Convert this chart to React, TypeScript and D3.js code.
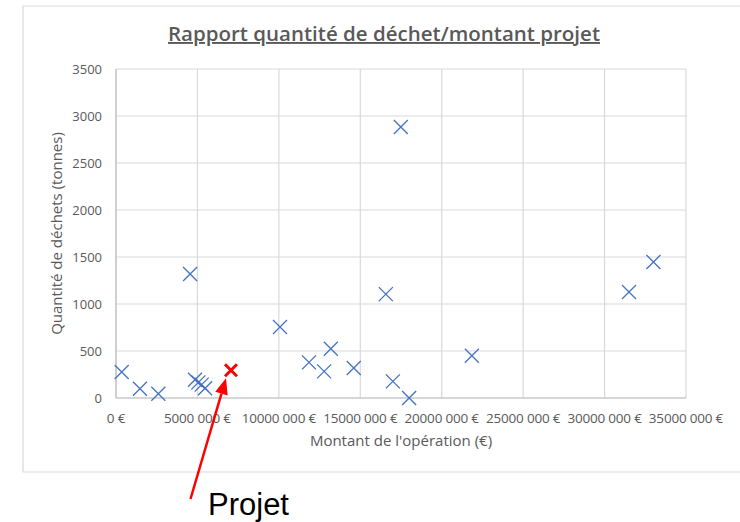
import React from "react";
import * as d3 from "d3";

const montants = [0.35e6, 1.47e6, 2.6e6, 4.55e6, 4.85e6, 5.06e6, 5.26e6, 5.47e6, 10.07e6, 11.85e6, 12.78e6, 13.19e6, 14.6e6, 16.57e6, 17.0e6, 18.0e6, 21.85e6, 17.49e6, 31.5e6, 33.0e6];
const dechets = [277, 99, 46, 1319, 195, 166, 142, 103, 755, 379, 283, 524, 319, 1105, 177, 0, 450, 2883, 1128, 1447];
const projetMontant = [7.06e6];
const projetDechets = [295];
const xTicks = [0, 5e6, 10e6, 15e6, 20e6, 25e6, 30e6, 35e6];
const xTickLabels = ["0 €", "5000 000 €", "10000 000 €", "15000 000 €", "20000 000 €", "25000 000 €", "30000 000 €", "35000 000 €"];
const yTicks = [0, 500, 1000, 1500, 2000, 2500, 3000, 3500];

const W = 740, H = 522;
const plot = { left: 116, right: 686, top: 69, bottom: 398 };
const font = "'Open Sans', 'DejaVu Sans', sans-serif";
const gray = "#595959";

export default function App() {
  const x = d3.scaleLinear().domain([0, 35e6]).range([plot.left, plot.right]);
  const y = d3.scaleLinear().domain([0, 3500]).range([plot.bottom, plot.top]);
  const cross = (cx: number, cy: number, r: number) =>
    `M${cx - r},${cy - r}L${cx + r},${cy + r}M${cx - r},${cy + r}L${cx + r},${cy - r}`;

  const px = x(projetMontant[0]);
  const py = y(projetDechets[0]);
  const tip = { x: px - 5, y: py + 8 };
  const tail = { x: 190.5, y: 499 };
  const ang = Math.atan2(tip.y - tail.y, tip.x - tail.x);
  const headLen = 16, headW = 6.5;
  const bx = tip.x - headLen * Math.cos(ang), by = tip.y - headLen * Math.sin(ang);
  const nx = -Math.sin(ang), ny = Math.cos(ang);
  const head = `M${tip.x},${tip.y}L${bx + nx * headW},${by + ny * headW}L${bx - nx * headW},${by - ny * headW}Z`;

  return (
    <svg width={W} height={H} style={{ position: "absolute", left: 0, top: 0, background: "#fff" }}>
      <rect x={0} y={0} width={W} height={H} fill="#fff" />
      {/* chart border */}
      <path d={`M23,6H760M23,6V472H760`} fill="none" stroke="#d9d9d9" strokeWidth={1.2} />
      {/* title */}
      <text x={384} y={41} textAnchor="middle" fontFamily={font} fontWeight={600} fontSize={19}
        fill={gray} textDecoration="underline" textLength={432} lengthAdjust="spacingAndGlyphs">
        Rapport quantité de déchet/montant projet
      </text>
      {/* gridlines */}
      {yTicks.map((t) => (
        <line key={"gy" + t} x1={plot.left} x2={plot.right} y1={y(t)} y2={y(t)} stroke="#d9d9d9" strokeWidth={1.2} />
      ))}
      {xTicks.map((t) => (
        <line key={"gx" + t} x1={x(t)} x2={x(t)} y1={plot.top} y2={plot.bottom} stroke="#d9d9d9" strokeWidth={1.2} />
      ))}
      <line x1={plot.left} x2={plot.right} y1={plot.bottom} y2={plot.bottom} stroke="#bfbfbf" strokeWidth={1.2} />
      <line x1={plot.left} x2={plot.left} y1={plot.top} y2={plot.bottom} stroke="#bfbfbf" strokeWidth={1.2} />
      {/* y tick labels */}
      {yTicks.map((t) => (
        <text key={"ly" + t} x={102} y={y(t) + 4.5} textAnchor="end" fontFamily={font} fontSize={13} fill={gray}>
          {t}
        </text>
      ))}
      {/* x tick labels */}
      {xTicks.map((t, i) => (
        <text key={"lx" + t} x={x(t)} y={423} textAnchor="middle" fontFamily={font} fontSize={13.5} fill={gray}
          letterSpacing={-0.2}>
          {xTickLabels[i]}
        </text>
      ))}
      {/* axis titles */}
      <text x={401} y={446} textAnchor="middle" fontFamily={font} fontSize={15} fill={gray}>
        Montant de l'opération (€)
      </text>
      <text transform={`translate(62,${(plot.top + plot.bottom) / 2}) rotate(-90)`} textAnchor="middle"
        fontFamily={font} fontSize={15} fill={gray}>
        Quantité de déchets (tonnes)
      </text>
      {/* points */}
      {montants.map((m, i) => (
        <path key={"p" + i} d={cross(x(m), y(dechets[i]), 7)} stroke="#4472C4" strokeWidth={1.3} fill="none" />
      ))}
      {projetMontant.map((m, i) => (
        <path key={"r" + i} d={cross(x(m), y(projetDechets[i]), 6)} stroke="#ff0000" strokeWidth={3} fill="none" />
      ))}
      {/* arrow */}
      <line x1={tail.x} y1={tail.y} x2={bx} y2={by} stroke="#ff0000" strokeWidth={2.5} />
      <path d={head} fill="#ff0000" />
      <text x={208} y={515} fontFamily="'Liberation Sans', Arial, sans-serif" fontSize={31} fill="#000">
        Projet
      </text>
    </svg>
  );
}
